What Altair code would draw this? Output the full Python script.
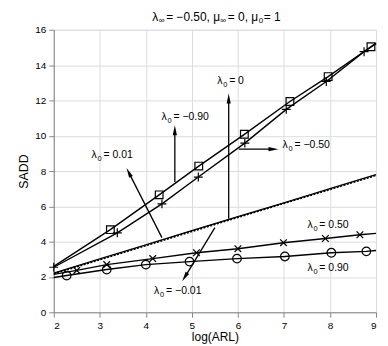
import math
import altair as alt
import pandas as pd

W, H = 324, 284
XDOM = [2, 9]
YDOM = [0, 16]
FONT = "Liberation Sans"

# ---- series ----
# lambda0 = -0.90 (squares)
sq_line_x = [2.0, 3.23, 4.29, 5.15, 6.14, 7.13, 7.96, 8.89, 9.0]
sq_line_y = [2.60, 4.68, 6.65, 8.28, 10.08, 11.94, 13.35, 15.04, 15.25]
sq_mark_x = [3.23, 4.29, 5.15, 6.14, 7.13, 7.96, 8.89]
sq_mark_y = [4.68, 6.65, 8.28, 10.08, 11.94, 13.35, 15.04]

# lambda0 = -0.50 (plus)
pl_line_x = [2.0, 3.38, 4.35, 5.14, 6.15, 7.05, 7.92, 8.74, 9.0]
pl_line_y = [2.55, 4.50, 6.14, 7.66, 9.58, 11.49, 13.07, 14.76, 15.22]
pl_mark_x = [2.0, 3.38, 4.35, 5.14, 6.15, 7.05, 7.92, 8.74]
pl_mark_y = [2.55, 4.50, 6.14, 7.66, 9.58, 11.49, 13.07, 14.76]

# lambda0 = 0.01 / -0.01 / 0 (dense lines)
d1_x = [2.0, 3.0, 4.0, 5.0, 6.0, 7.0, 8.0, 9.0]
d1_y = [2.22, 3.02, 3.82, 4.62, 5.42, 6.20, 7.00, 7.80]
d2_y = [2.18, 2.98, 3.78, 4.58, 5.38, 6.17, 6.96, 7.76]

# lambda0 = 0.50 (x)
xm_line_x = [2.0, 2.5, 3.15, 4.15, 5.1, 6.0, 6.99, 7.9, 8.65, 9.0]
xm_line_y = [2.15, 2.37, 2.70, 3.04, 3.37, 3.60, 3.94, 4.18, 4.39, 4.47]
xm_mark_x = [2.5, 3.15, 4.15, 5.1, 6.0, 6.99, 7.9, 8.65]
xm_mark_y = [2.37, 2.70, 3.04, 3.37, 3.60, 3.94, 4.18, 4.39]

# lambda0 = 0.90 (circles)
ci_line_x = [2.0, 2.28, 3.15, 4.0, 4.95, 5.98, 7.02, 8.03, 8.79, 9.0]
ci_line_y = [1.97, 2.08, 2.42, 2.70, 2.87, 3.04, 3.16, 3.37, 3.45, 3.50]
ci_mark_x = [2.28, 3.15, 4.0, 4.95, 5.98, 7.02, 8.03, 8.79]
ci_mark_y = [2.08, 2.42, 2.70, 2.87, 3.04, 3.16, 3.37, 3.45]

x_ticks = [2, 3, 4, 5, 6, 7, 8, 9]
y_ticks = [0, 2, 4, 6, 8, 10, 12, 14, 16]

# ---- annotations ----
lab_x = [5.55, 4.34, 6.97, 2.82, 4.18, 7.51, 7.51]
lab_y = [13.1, 11.04, 9.45, 8.9, 1.18, 4.96, 2.53]
lab_rest = ["= 0", "= \u22120.90", "= \u22120.50", "= 0.01", "= \u22120.01", "= 0.50", "= 0.90"]

arr_tail_x = [5.80, 4.63, 6.02, 4.35, 5.50]
arr_tail_y = [5.30, 7.38, 9.24, 4.23, 4.79]
arr_tip_x = [5.80, 4.63, 6.88, 3.58, 4.79]
arr_tip_y = [12.39, 10.59, 9.24, 8.17, 1.75]

title_parts = ["\u03bb", "\u221e", "= \u22120.50, \u03bc", "\u221e", "= 0, \u03bc", "0", "= 1"]
title_dx = [99, 105.5, 113, 167.5, 175, 206, 211]
title_sub = [False, True, False, True, False, True, False]

# ---- build frames ----
def df(xs, ys, name):
    return pd.DataFrame({"x": xs, "y": ys, "s": name})

lines = pd.concat([
    df(sq_line_x, sq_line_y, "m090"),
    df(pl_line_x, pl_line_y, "m050"),
    df(xm_line_x, xm_line_y, "p050"),
    df(ci_line_x, ci_line_y, "p090"),
    df(d1_x, d1_y, "p001"),
])
dense2 = df(d1_x, d2_y, "m001")

kx, ky = W / (XDOM[1] - XDOM[0]), H / (YDOM[1] - YDOM[0])
HEAD = 10.0
rule_rows, head_rows = [], []
for tx, ty, px, py in zip(arr_tail_x, arr_tail_y, arr_tip_x, arr_tip_y):
    dxp = (px - tx) * kx
    dyp = -(py - ty) * ky
    L = math.hypot(dxp, dyp)
    ux, uy = dxp / L, dyp / L
    cx = px - ux * (HEAD / 2) / kx
    cy = py + uy * (HEAD / 2) / ky
    bx = px - ux * (HEAD * 0.8) / kx
    by = py + uy * (HEAD * 0.8) / ky
    ang = math.degrees(math.atan2(ux, -uy)) % 360
    rule_rows.append({"x": tx, "y": ty, "x2": bx, "y2": by})
    head_rows.append({"x": cx, "y": cy, "ang": ang})
arrow_rules = pd.DataFrame(rule_rows)
arrow_heads_df = pd.DataFrame(head_rows)

labels = pd.DataFrame({"x": lab_x, "y": lab_y, "rest": lab_rest})
titles = pd.DataFrame({"t": title_parts, "dx": title_dx, "sub": title_sub})

xsc = alt.Scale(domain=XDOM, nice=False, zero=False)
ysc = alt.Scale(domain=YDOM, nice=False, zero=False)
X = alt.X("x:Q", scale=xsc, axis=alt.Axis(
    title="log(ARL)", values=x_ticks, tickCount=8, labelOverlap=False,
    titleFontSize=12, titleFontWeight="normal", titlePadding=1, labelPadding=3))
Y = alt.Y("y:Q", scale=ysc, axis=alt.Axis(
    title="SADD", values=y_ticks, tickCount=9, labelOverlap=False,
    titleFontSize=12.5, titleFontWeight="normal", titlePadding=4, labelPadding=3))

base_line = alt.Chart(lines).mark_line(color="black", strokeWidth=1.4).encode(
    x=X, y=Y, detail="s:N")
dense_line = alt.Chart(dense2).mark_line(color="black", strokeWidth=1.8, strokeDash=[2, 1.5]).encode(
    x=X, y=Y)

def marks(xs, ys, shape, size):
    return alt.Chart(pd.DataFrame({"x": xs, "y": ys})).mark_point(
        shape=shape, size=size, filled=False, color="black", strokeWidth=1.2, opacity=1
    ).encode(x=X, y=Y)

PLUS = "M-1,0L1,0M0,-1L0,1"
CROSS = "M-0.8,-0.8L0.8,0.8M-0.8,0.8L0.8,-0.8"
sq = marks(sq_mark_x, sq_mark_y, "square", 60)
pl = marks(pl_mark_x, pl_mark_y, PLUS, 80)
xm = marks(xm_mark_x, xm_mark_y, CROSS, 70)
ci = marks(ci_mark_x, ci_mark_y, "circle", 75)

arrow_lines = alt.Chart(arrow_rules).mark_rule(color="black", strokeWidth=1.3).encode(
    x=X, y=Y, x2="x2:Q", y2="y2:Q")
arrow_heads = alt.Chart(arrow_heads_df).mark_point(
    shape="M0,-1L0.42,1L-0.42,1Z", size=HEAD * HEAD, filled=True, color="black", opacity=1
).encode(x=X, y=Y, angle=alt.Angle("ang:Q", scale=None))

lam = alt.Chart(labels).mark_text(align="left", baseline="middle", font=FONT, fontSize=10.5,
                                  color="black", text="\u03bb").encode(x=X, y=Y)
sub = alt.Chart(labels).mark_text(align="left", baseline="middle", font=FONT, fontSize=7.5,
                                  color="black", text="0", dx=6, dy=4).encode(x=X, y=Y)
rest = alt.Chart(labels).mark_text(align="left", baseline="middle", font=FONT, fontSize=10.5,
                                   color="black", dx=12).encode(x=X, y=Y, text="rest:N")

t_main = alt.Chart(titles).transform_filter("!datum.sub").mark_text(
    align="left", baseline="middle", font=FONT, fontSize=12, color="black"
).encode(x=alt.X("dx:Q", scale=None), y=alt.value(-13), text="t:N")
t_sub = alt.Chart(titles).transform_filter("datum.sub").mark_text(
    align="left", baseline="middle", font=FONT, fontSize=8, color="black"
).encode(x=alt.X("dx:Q", scale=None), y=alt.value(-8.5), text="t:N")

chart = alt.layer(
    base_line, dense_line, sq, pl, xm, ci, arrow_lines, arrow_heads, lam, sub, rest, t_main, t_sub
).properties(
    width=W, height=H,
    autosize=alt.AutoSizeParams(type="none"),
    padding={"left": 46, "top": 21, "right": 4, "bottom": 32},
).configure_view(
    stroke="black", strokeWidth=1
).configure_axis(
    grid=True, gridColor="#a8a8a8", gridDash=[1, 2], gridWidth=0.8,
    ticks=False, domain=False,
    labelFont=FONT, labelFontSize=12, labelColor="black",
    titleFont=FONT, titleFontWeight="normal", titleColor="black",
).configure(background="white")

chart.save("out.html", embed_options={"renderer": "svg", "actions": False})
